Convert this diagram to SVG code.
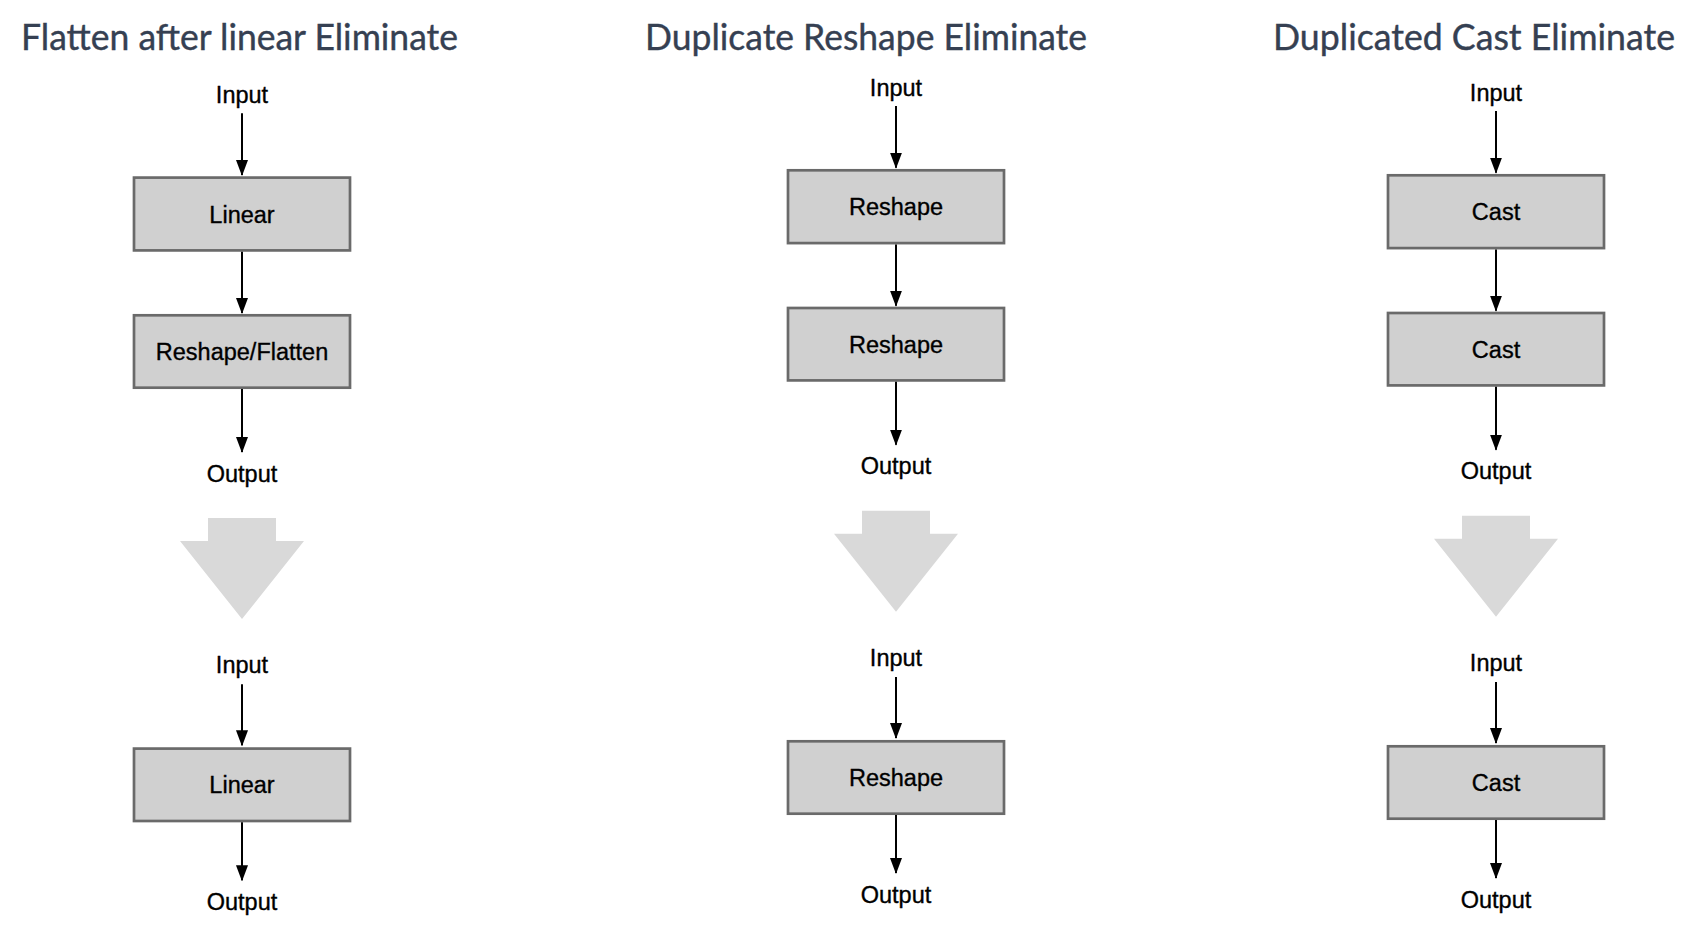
<svg xmlns="http://www.w3.org/2000/svg" width="1693" height="926" viewBox="0 0 1693 926">
<style>
.title{font-family:"Lato","Open Sans","Liberation Sans",sans-serif;font-size:37px;fill:#354052;stroke:#354052;stroke-width:0.4;}
.lbl{font-family:"Liberation Sans","Arial",sans-serif;font-size:23.5px;fill:#000;stroke:#000;stroke-width:0.35;text-anchor:middle;}
.box{fill:#d0d0d0;stroke:#6a6a6a;stroke-width:2.7;}
.edge{stroke:#000;stroke-width:2;fill:none;marker-end:url(#ah);}
.big{fill:#d9d9d9;}
</style>
<defs>
<marker id="ah" markerUnits="userSpaceOnUse" viewBox="0 0 16 12" markerWidth="16" markerHeight="12" refX="15" refY="6" orient="auto">
<path d="M0,0 L16,6 L0,12 z" fill="#000"/>
</marker>
</defs>
<rect width="1693" height="926" fill="#fff"/>
<g id="titles">
<text class="title" x="21" y="50" textLength="437" lengthAdjust="spacingAndGlyphs">Flatten after linear Eliminate</text>
<text class="title" x="645" y="50" textLength="442" lengthAdjust="spacingAndGlyphs">Duplicate Reshape Eliminate</text>
<text class="title" x="1273" y="50" textLength="402" lengthAdjust="spacingAndGlyphs">Duplicated Cast Eliminate</text>
</g>

<!-- Column 1 -->
<g transform="translate(242,0)">
<g id="c1-input1"><text class="lbl" x="0" y="103.3">Input</text></g>
<g id="c1-linear"><rect class="box" x="-108" y="177.6" width="216" height="72.8"/><text class="lbl" x="0" y="222.7">Linear</text></g>
<g id="c1-reshape"><rect class="box" x="-108" y="315.3" width="216" height="72.4"/><text class="lbl" x="0" y="360">Reshape/Flatten</text></g>
<g id="c1-output1"><text class="lbl" x="0" y="481.7">Output</text></g>
<g id="c1-bigarrow"><path class="big" d="M-34,518 H34 V541 H62 L0,619 L-62,541 H-34 Z"/></g>
<g id="c1-input2"><text class="lbl" x="0" y="673.3">Input</text></g>
<g id="c1-linear2"><rect class="box" x="-108" y="748.6" width="216" height="72.4"/><text class="lbl" x="0" y="793.3">Linear</text></g>
<g id="c1-output2"><text class="lbl" x="0" y="910">Output</text></g>
<g id="c1-edges">
<line class="edge" x1="0" y1="113.3" x2="0" y2="175"/>
<line class="edge" x1="0" y1="251.7" x2="0" y2="313"/>
<line class="edge" x1="0" y1="389" x2="0" y2="452"/>
<line class="edge" x1="0" y1="684.3" x2="0" y2="745.3"/>
<line class="edge" x1="0" y1="822.3" x2="0" y2="880.3"/>
</g>
</g>

<!-- Column 2 -->
<g transform="translate(896,-7.3)">
<g id="c2-input1"><text class="lbl" x="0" y="103.3">Input</text></g>
<g id="c2-reshape1"><rect class="box" x="-108" y="177.6" width="216" height="72.8"/><text class="lbl" x="0" y="222.7">Reshape</text></g>
<g id="c2-reshape2"><rect class="box" x="-108" y="315.3" width="216" height="72.4"/><text class="lbl" x="0" y="360">Reshape</text></g>
<g id="c2-output1"><text class="lbl" x="0" y="481.7">Output</text></g>
<g id="c2-bigarrow"><path class="big" d="M-34,518 H34 V541 H62 L0,619 L-62,541 H-34 Z"/></g>
<g id="c2-input2"><text class="lbl" x="0" y="673.3">Input</text></g>
<g id="c2-reshape3"><rect class="box" x="-108" y="748.6" width="216" height="72.4"/><text class="lbl" x="0" y="793.3">Reshape</text></g>
<g id="c2-output2"><text class="lbl" x="0" y="910">Output</text></g>
<g id="c2-edges">
<line class="edge" x1="0" y1="113.3" x2="0" y2="175"/>
<line class="edge" x1="0" y1="251.7" x2="0" y2="313"/>
<line class="edge" x1="0" y1="389" x2="0" y2="452"/>
<line class="edge" x1="0" y1="684.3" x2="0" y2="745.3"/>
<line class="edge" x1="0" y1="822.3" x2="0" y2="880.3"/>
</g>
</g>

<!-- Column 3 -->
<g transform="translate(1496,-2.3)">
<g id="c3-input1"><text class="lbl" x="0" y="103.3">Input</text></g>
<g id="c3-cast1"><rect class="box" x="-108" y="177.6" width="216" height="72.8"/><text class="lbl" x="0" y="222.7">Cast</text></g>
<g id="c3-cast2"><rect class="box" x="-108" y="315.3" width="216" height="72.4"/><text class="lbl" x="0" y="360">Cast</text></g>
<g id="c3-output1"><text class="lbl" x="0" y="481.7">Output</text></g>
<g id="c3-bigarrow"><path class="big" d="M-34,518 H34 V541 H62 L0,619 L-62,541 H-34 Z"/></g>
<g id="c3-input2"><text class="lbl" x="0" y="673.3">Input</text></g>
<g id="c3-cast3"><rect class="box" x="-108" y="748.6" width="216" height="72.4"/><text class="lbl" x="0" y="793.3">Cast</text></g>
<g id="c3-output2"><text class="lbl" x="0" y="910">Output</text></g>
<g id="c3-edges">
<line class="edge" x1="0" y1="113.3" x2="0" y2="175"/>
<line class="edge" x1="0" y1="251.7" x2="0" y2="313"/>
<line class="edge" x1="0" y1="389" x2="0" y2="452"/>
<line class="edge" x1="0" y1="684.3" x2="0" y2="745.3"/>
<line class="edge" x1="0" y1="822.3" x2="0" y2="880.3"/>
</g>
</g>
</svg>
